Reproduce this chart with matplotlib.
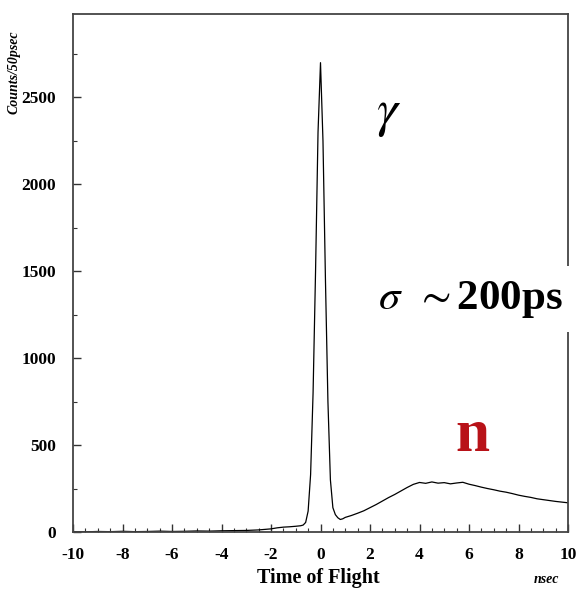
import matplotlib.pyplot as plt
from matplotlib.ticker import MultipleLocator

# time of flight (ns) and counts per 50 ps
tof = [-10, -9.5, -9, -8.5, -8, -7.5, -7, -6.5, -6, -5.5, -5, -4.5, -4, -3.5, -3, -2.5,
       -2, -1.75, -1.5, -1.25, -1, -0.8, -0.7, -0.6, -0.5, -0.4, -0.3, -0.2, -0.1, 0,
       0.1, 0.2, 0.3, 0.4, 0.5, 0.6, 0.7, 0.8, 0.9, 1.0, 1.25, 1.5, 1.75, 2, 2.25, 2.5,
       2.75, 3, 3.25, 3.5, 3.75, 4, 4.25, 4.5, 4.75, 5, 5.25, 5.5, 5.75, 6, 6.25, 6.5,
       6.75, 7, 7.25, 7.5, 7.75, 8, 8.25, 8.5, 8.75, 9, 9.25, 9.5, 9.75, 10]
counts = [2, 1, 3, 2, 4, 2, 3, 5, 3, 4, 6, 5, 7, 8, 9, 12,
          18, 24, 28, 30, 33, 36, 40, 55, 120, 330, 800, 1500, 2300, 2700,
          2250, 1450, 750, 300, 140, 100, 82, 72, 76, 84, 95, 108, 122, 140, 158, 178,
          198, 216, 236, 256, 274, 285, 280, 288, 281, 284, 277, 282, 286, 275, 267, 258,
          250, 243, 235, 229, 221, 212, 205, 199, 191, 186, 181, 176, 172, 168]

yticks = [0, 500, 1000, 1500, 2000, 2500]
xticks = [-10, -8, -6, -4, -2, 0, 2, 4, 6, 8, 10]

plt.rcParams['font.family'] = ['Liberation Serif', 'DejaVu Serif']
plt.rcParams['mathtext.fontset'] = 'stix'
plt.rcParams['axes.unicode_minus'] = False

fig = plt.figure(figsize=(5.79, 5.91), dpi=100)
ax = fig.add_axes([73 / 579, 59 / 591, 495 / 579, 518 / 591])

ax.plot(tof, counts, color='black', lw=0.9)

ax.set_xlim(-10, 10)
ax.set_ylim(0, 2980)
ax.set_xticks(xticks)
ax.set_yticks(yticks)
ax.xaxis.set_minor_locator(MultipleLocator(0.5))
ax.yaxis.set_minor_locator(MultipleLocator(250))
ax.tick_params(which='both', direction='in', colors='#333333', labelcolor='black',
               labelsize=12.5, top=False, right=False)
ax.tick_params(which='major', length=6, width=1)
ax.tick_params(which='minor', length=3, width=0.8)
ax.tick_params(axis='x', pad=11)
ax.tick_params(axis='y', pad=12)
for lab in ax.get_xticklabels() + ax.get_yticklabels():
    lab.set_fontweight('bold')
for s in ax.spines.values():
    s.set_color('#444444')
    s.set_linewidth(1.3)

ax.text(0.495, -0.089, 'Time of Flight', transform=ax.transAxes, ha='center', va='center',
        fontsize=14.5, fontweight='bold')
ax.text(0.957, -0.092, 'nsec', transform=ax.transAxes, ha='center', va='center',
        fontsize=10, fontstyle='italic', fontweight='bold')
fig.text(14 / 579, 1 - 72 / 591, 'Counts/50psec', rotation=90, ha='center', va='center',
         fontsize=10, fontstyle='italic', fontweight='bold')

ax.text(2.75, 2400, r'$\gamma$', fontsize=38, ha='center', va='center')
ax.text(9.8, 1340, r'$\sigma\ \,\sim$200ps', fontsize=31, fontweight='bold',
        ha='right', va='center', zorder=5,
        bbox=dict(facecolor='white', edgecolor='none', pad=9))
ax.text(6.15, 550, 'n', fontsize=44, fontweight='bold', color='#b81218',
        ha='center', va='center')

fig.savefig('out.png', dpi=100)
